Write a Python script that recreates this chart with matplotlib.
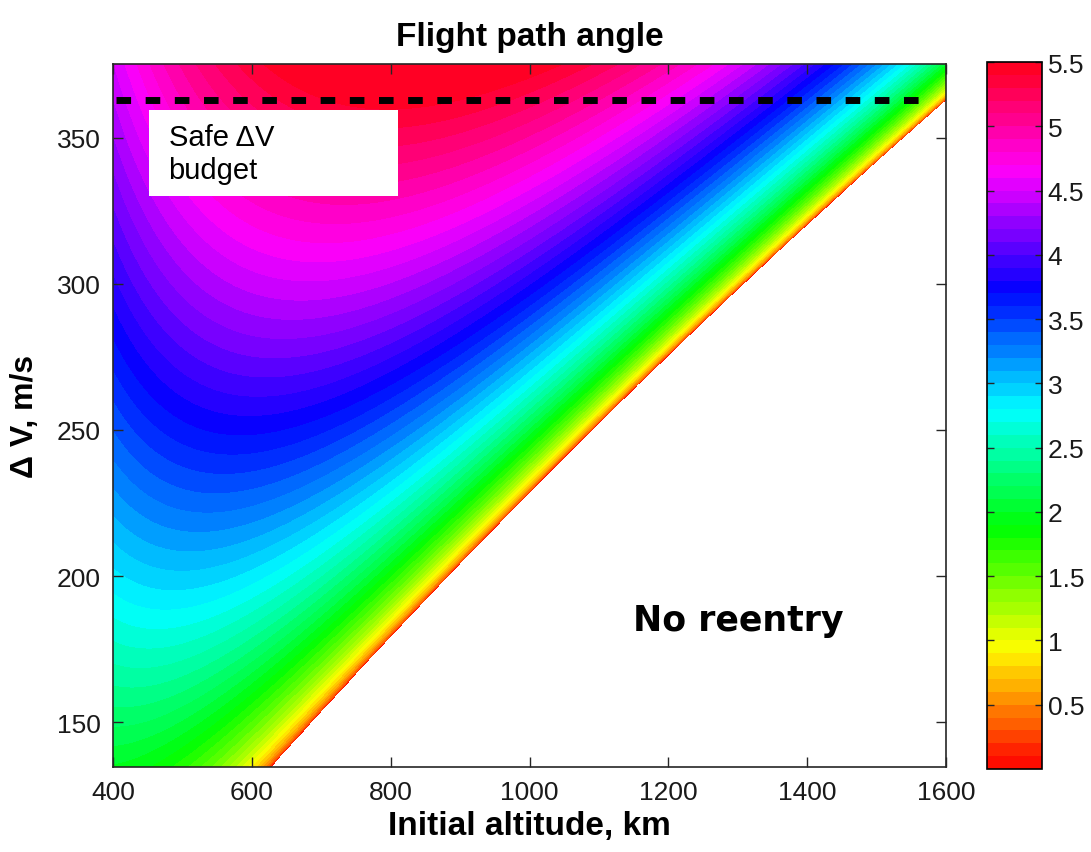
import numpy as np
import matplotlib
matplotlib.use("Agg")
import matplotlib.pyplot as plt
from matplotlib import font_manager as fm
from matplotlib.patches import Rectangle
from matplotlib.ticker import FormatStrFormatter

# ---------------- data ----------------
altitude_km = np.linspace(400, 1600, 601)          # initial circular-orbit altitude
delta_v_ms = np.linspace(134.6, 375.3, 481)         # retro burn magnitude
mu_km3s2 = 398600.4418
earth_radius_km = 6378.137
entry_altitude_km = 148.0                            # entry interface (boundary)
safe_dv_budget = 363.0
angle_levels = np.round(np.arange(0.0, 5.51, 0.1), 2)
cbar_ticks = [0.5, 1, 1.5, 2, 2.5, 3, 3.5, 4, 4.5, 5, 5.5]
x_ticks = [400, 600, 800, 1000, 1200, 1400, 1600]
y_ticks = [150, 200, 250, 300, 350]

# flight path angle at entry interface after a tangential retro burn
H, DV = np.meshgrid(altitude_km, delta_v_ms)
r1 = earth_radius_km + H
v1 = np.sqrt(mu_km3s2 / r1) - DV / 1000.0
ang_mom = r1 * v1
energy = 0.5 * v1 ** 2 - mu_km3s2 / r1
r_e = earth_radius_km + entry_altitude_km
v_e = np.sqrt(2.0 * (energy + mu_km3s2 / r_e))
cosg = ang_mom / (r_e * v_e)
gamma = np.where(cosg <= 1.0,
                 np.degrees(np.arccos(np.clip(cosg, -1, 1))),
                 -np.degrees(np.arccos(1.0 / cosg)))   # negative => no reentry (left blank)
gamma = np.minimum(gamma, 5.499)

# ---------------- fonts ----------------
names = {f.name for f in fm.fontManager.ttflist}
tick_family = 'Liberation Sans Narrow' if 'Liberation Sans Narrow' in names else 'Liberation Sans'
lab_family = 'Liberation Sans'

# ---------------- figure ----------------
fig = plt.figure(figsize=(10.91, 8.53), dpi=100)
ax = fig.add_axes([0.1036, 0.0996, 0.7635, 0.8242])
cax = fig.add_axes([0.9047, 0.0973, 0.0504, 0.8288])

cs = ax.contourf(H, DV, gamma, levels=angle_levels, cmap='hsv', vmin=0, vmax=5.5)

ax.set_xlim(400, 1600)
ax.set_ylim(134.6, 375.3)
ax.set_xticks(x_ticks)
ax.set_yticks(y_ticks)
frame_col = '#262626'
for s in ax.spines.values():
    s.set_color(frame_col)
    s.set_linewidth(1.2)
ax.tick_params(direction='in', length=7, width=1.0, top=True, right=True,
               colors=frame_col, labelcolor='#1a1a1a', labelsize=19, pad=9)
for lab in ax.get_xticklabels() + ax.get_yticklabels():
    lab.set_family(tick_family)

# safe budget line
ax.plot([405, 1580], [safe_dv_budget, safe_dv_budget], color='black', lw=5,
        linestyle=(0, (2.1, 2.1)), solid_capstyle='butt', dash_capstyle='butt', zorder=5)

# white box with label
ax.add_patch(Rectangle((452, 330.1), 358.5, 29.5, facecolor='white', edgecolor='none', zorder=6))
ax.text(480, 344.6, 'Safe ΔV\nbudget', fontsize=21, family=lab_family, color='black',
        ha='left', va='center', linespacing=1.2, zorder=7)

ax.text(1300, 184.8, 'No reentry', fontsize=25, family='DejaVu Sans', weight='bold',
        ha='center', va='center', color='black')

ax.set_title('Flight path angle', fontsize=24, family=lab_family, weight='bold', pad=14)
ax.set_xlabel('Initial altitude, km', fontsize=24, family=lab_family, weight='bold', labelpad=5)
ax.set_ylabel('Δ V, m/s', fontsize=23, family=lab_family, weight='bold', labelpad=12)

cb = fig.colorbar(cs, cax=cax, ticks=cbar_ticks)
cb.ax.yaxis.set_major_formatter(FormatStrFormatter('%g'))
cb.outline.set_edgecolor('black')
cb.outline.set_linewidth(1.2)
cax.tick_params(direction='in', length=5, width=1.0, left=True, right=True,
                labelsize=19, pad=4, colors=frame_col, labelcolor='#1a1a1a')
for lab in cax.get_yticklabels():
    lab.set_family(tick_family)

fig.savefig('out.png', dpi=100)
